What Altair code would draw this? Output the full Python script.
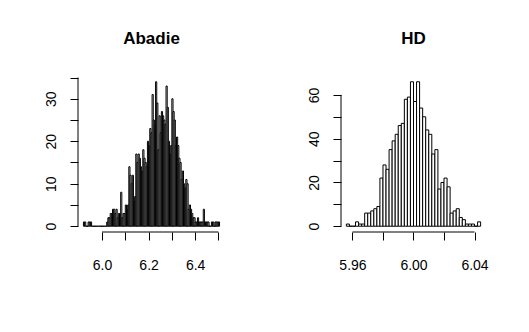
import altair as alt
import pandas as pd

# ---- data ----
left_title = "Abadie"
left_start = 5.92
left_width = 0.005
left_counts = [
    1, 1, 0, 0, 1, 1, 1, 0, 0, 0,
    0, 0, 0, 0, 0, 0, 0, 0, 0, 0,
    1, 2, 2, 3, 3, 4, 4, 3, 4, 2,
    3, 3, 8, 2, 3, 3, 5, 4, 5, 14,
    12, 10, 12, 6, 7, 17, 15, 17, 16, 14,
    13, 18, 16, 15, 14, 20, 19, 23, 22, 31,
    25, 24, 34, 29, 18, 26, 22, 27, 26, 25,
    24, 33, 28, 20, 17, 19, 30, 27, 25, 19,
    21, 19, 16, 15, 11, 13, 10, 9, 11, 10,
    4, 5, 4, 3, 2, 2, 1, 1, 2, 1,
    1, 1, 1, 4, 1, 1, 1, 1, 0, 0,
    1, 1, 0, 1, 1, 1, 1,
]
left_xticks = [6.0, 6.1, 6.2, 6.3, 6.4, 6.5]
left_xlabels = ["6.0", "6.2", "6.4"]
left_yticks = [0, 5, 10, 15, 20, 25, 30, 35]
left_ylabels = [0, 10, 20, 30]

right_title = "HD"
right_start = 5.956
right_width = 0.002
right_counts = [
    1, 0, 0, 2, 1, 1, 6, 6, 7, 8,
    9, 22, 28, 26, 35, 39, 42, 46, 47, 58,
    59, 66, 57, 66, 54, 50, 44, 42, 33, 35,
    17, 20, 22, 18, 6, 7, 8, 4, 3, 1,
    1, 1, 0, 2,
]
right_xticks = [5.96, 5.98, 6.00, 6.02, 6.04]
right_xlabels = ["5.96", "6.00", "6.04"]
right_yticks = [0, 10, 20, 30, 40, 50, 60]
right_ylabels = [0, 20, 40, 60]

FONT = "Liberation Sans"
W_L, W_R, H = 147, 145, 156


def hist_df(start, width, counts):
    lo = [start + i * width for i in range(len(counts))]
    return pd.DataFrame({"lo": lo, "hi": [v + width for v in lo],
                         "count": counts, "zero": [0] * len(counts)})


def pad_domain(a, b):
    d = (b - a) * 0.04
    return [a - d, b + d]


def panel(title, start, width, counts, xticks, xlabels, xfmt, yticks, ylabels, W):
    df = hist_df(start, width, counts)
    xdom = pad_domain(start, start + width * len(counts))
    ydom = pad_domain(0, max(counts))
    xs = alt.Scale(domain=xdom, nice=False, zero=False)
    ys = alt.Scale(domain=ydom, nice=False, zero=False)
    xlab = str(xlabels)
    ylab = str(ylabels)
    xaxis = alt.Axis(values=xticks, title=None,
                     labelExpr=f"indexof({xlab}, format(datum.value, '{xfmt}')) >= 0 ? format(datum.value, '{xfmt}') : ''")
    yaxis = alt.Axis(values=yticks, title=None,
                     labelExpr=f"indexof({ylab}, datum.value) >= 0 ? datum.label : ''")
    bars = alt.Chart(df).mark_rect(fill="white", stroke="black", strokeWidth=1).encode(
        x=alt.X("lo:Q", scale=xs, axis=xaxis),
        x2="hi:Q",
        y=alt.Y("count:Q", scale=ys, axis=yaxis),
        y2="zero:Q",
    )
    one = alt.Chart(pd.DataFrame({"k": [0]}))
    xline = one.mark_rule(color="black", strokeWidth=1).encode(
        x=alt.XDatum(xticks[0], type="quantitative", scale=xs, axis=xaxis),
        x2=alt.X2Datum(xticks[-1]),
        y=alt.value(H))
    yline = one.mark_rule(color="black", strokeWidth=1).encode(
        y=alt.YDatum(yticks[0], type="quantitative", scale=ys, axis=yaxis),
        y2=alt.Y2Datum(yticks[-1]),
        x=alt.value(0))
    return alt.layer(bars, xline, yline).properties(
        width=W, height=H,
        title=alt.TitleParams(title, font=FONT, fontSize=17, fontWeight="bold",
                              color="black", anchor="middle", baseline="alphabetic",
                              offset=15),
    )


left = panel(left_title, left_start, left_width, left_counts,
             left_xticks, left_xlabels, ".1f", left_yticks, left_ylabels, W_L)
right = panel(right_title, right_start, right_width, right_counts,
              right_xticks, right_xlabels, ".2f", right_yticks, right_ylabels, W_R)

chart = (
    alt.hconcat(left, right, spacing=81)
    .properties(padding={"left": 35, "top": 22, "right": 5, "bottom": 5},
                background="white")
    .configure_view(stroke=None)
    .configure_axis(domain=False, grid=False, ticks=True, tickSize=8,
                    tickColor="black", tickWidth=1, tickOpacity=1,
                    labelFont=FONT, labelFontSize=14, labelColor="black",
                    labelPadding=15, labelFlush=False, labelOverlap=False)
    .configure_axisX(labelPadding=18)
    .configure_axisY(labelAngle=-90, labelAlign="center", labelBaseline="alphabetic")
)

chart.save("out.html", embed_options={"renderer": "svg", "actions": False})
